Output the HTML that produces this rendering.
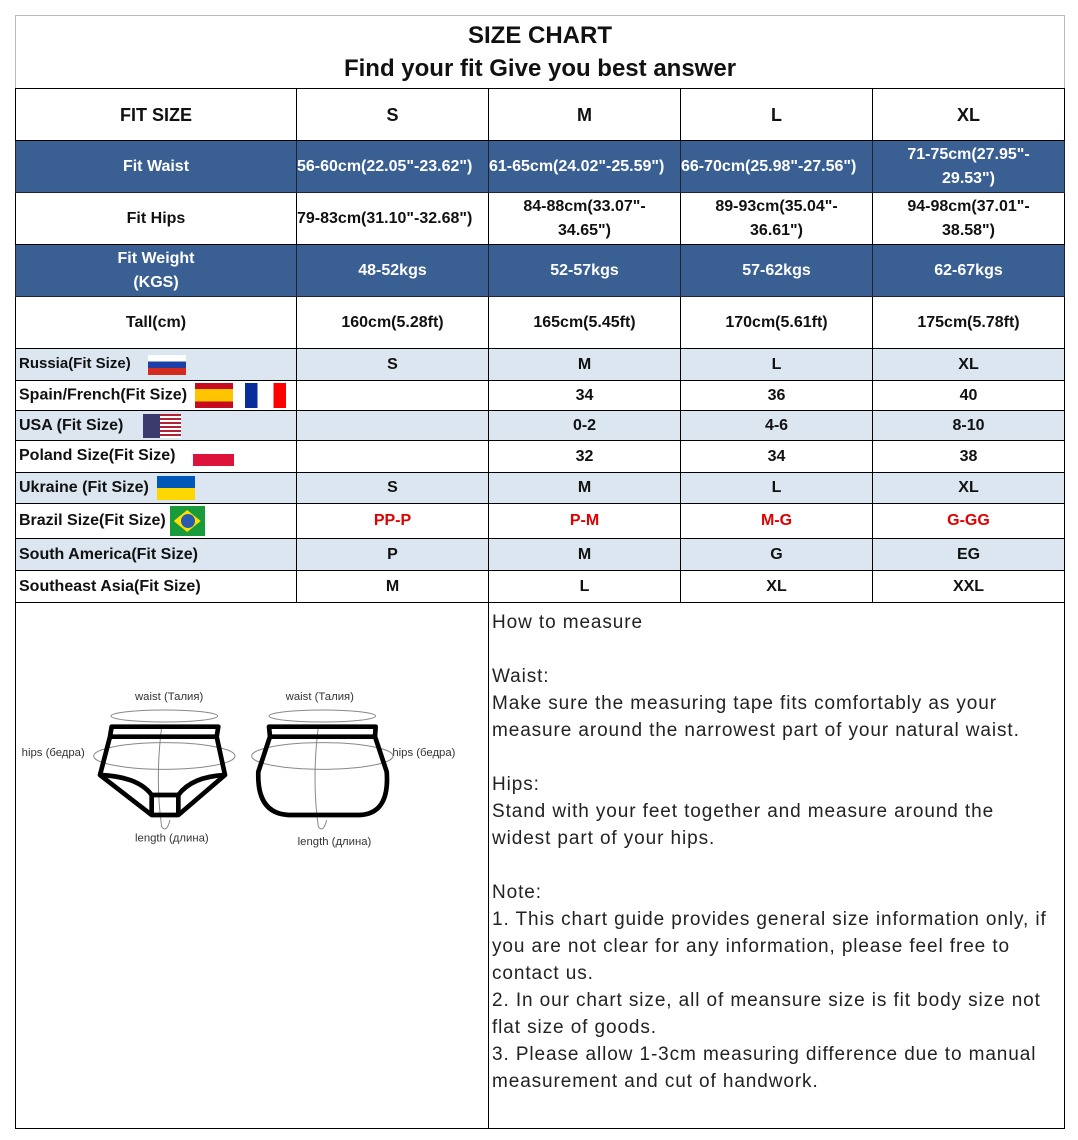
<!DOCTYPE html>
<html><head><meta charset="utf-8"><style>
body{margin:0;width:1078px;height:1140px;background:#fff;position:relative;font-family:"Liberation Sans",Arial,sans-serif;overflow:hidden}
table{position:absolute;left:15px;top:15px;border-collapse:collapse;table-layout:fixed}
td{border:1px solid #000;padding:0;text-align:center;font-weight:bold;font-size:16px;color:#111;white-space:nowrap;overflow:visible;line-height:20px}
.b td{background:#3a6093;color:#fff;border-color:#223}
.l td{background:#dce6f1}
td.lf{text-align:left;padding-left:3px}
.r{color:#e00000}
.fl{display:inline-block;vertical-align:middle;margin-left:8px}
.txt{position:absolute;left:492px;top:609px;font-size:19px;line-height:27px;color:#222;font-weight:normal;letter-spacing:0.9px;white-space:nowrap}
</style></head><body>
<table>
<colgroup><col style="width:281px"><col style="width:192px"><col style="width:192px"><col style="width:192px"><col style="width:192px"></colgroup>
<tr style="height:73px"><td colspan="5" style="font-size:24px;line-height:33px;border-left-color:#bbb;border-right-color:#bbb;border-top-color:#bbb">SIZE CHART<br>Find your fit Give you best answer</td></tr>
<tr style="height:52px"><td style="font-size:18px">FIT SIZE</td><td style="font-size:18px">S</td><td style="font-size:18px">M</td><td style="font-size:18px">L</td><td style="font-size:18px">XL</td></tr>
<tr class="b" style="height:52px"><td>Fit Waist</td><td style="text-align:left">56-60cm(22.05"-23.62")</td><td style="text-align:left">61-65cm(24.02"-25.59")</td><td style="text-align:left">66-70cm(25.98"-27.56")</td><td style="line-height:24px">71-75cm(27.95"-<br>29.53")</td></tr>
<tr style="height:52px"><td>Fit Hips</td><td style="text-align:left">79-83cm(31.10"-32.68")</td><td style="line-height:24px">84-88cm(33.07"-<br>34.65")</td><td style="line-height:24px">89-93cm(35.04"-<br>36.61")</td><td style="line-height:24px">94-98cm(37.01"-<br>38.58")</td></tr>
<tr class="b" style="height:52px"><td style="line-height:24px">Fit Weight<br>(KGS)</td><td>48-52kgs</td><td>52-57kgs</td><td>57-62kgs</td><td>62-67kgs</td></tr>
<tr style="height:52px"><td>Tall(cm)</td><td>160cm(5.28ft)</td><td>165cm(5.45ft)</td><td>170cm(5.61ft)</td><td>175cm(5.78ft)</td></tr>
<tr class="l" style="height:32px"><td class="lf" style="font-size:15px">Russia(Fit Size)<span class="fl" style="margin-left:17px;width:38px;height:20px;background:linear-gradient(#fff 0 33%,#1c3fa8 33% 66%,#d52b1e 66%)"></span></td><td>S</td><td>M</td><td>L</td><td>XL</td></tr>
<tr style="height:30px"><td class="lf">Spain/French(Fit Size)<span class="fl" style="margin-left:8px;width:38px;height:25px;background:linear-gradient(#c60b1e 0 25%,#ffc400 25% 75%,#c60b1e 75%)"></span><span class="fl" style="margin-left:12px;width:41px;height:25px;background:linear-gradient(90deg,#0a2d9c 0 30%,#fff 30% 70%,#f00 70%)"></span></td><td></td><td>34</td><td>36</td><td>40</td></tr>
<tr class="l" style="height:30px"><td class="lf">USA (Fit Size)<span class="fl" style="margin-left:20px;width:38px;height:24px;background:linear-gradient(90deg,#3c3b6e 0 45%,transparent 45%),repeating-linear-gradient(#b22234 0 2px,#fff 2px 4px)"></span></td><td></td><td>0-2</td><td>4-6</td><td>8-10</td></tr>
<tr style="height:32px"><td class="lf">Poland Size(Fit Size)<span class="fl" style="margin-left:18px;margin-top:8px;width:41px;height:12px;background:#dc143c"></span></td><td></td><td>32</td><td>34</td><td>38</td></tr>
<tr class="l" style="height:31px"><td class="lf">Ukraine (Fit Size)<span class="fl" style="width:38px;height:24px;background:linear-gradient(#0057b7 0 50%,#ffd700 50%)"></span></td><td>S</td><td>M</td><td>L</td><td>XL</td></tr>
<tr style="height:35px"><td class="lf">Brazil Size(Fit Size)<span class="fl" style="margin-left:4px;width:35px;height:30px;background:#1a9b3b;position:relative"><span style="position:absolute;left:4px;top:4px;width:27px;height:22px;background:#fedf00;clip-path:polygon(50% 0,100% 50%,50% 100%,0 50%)"></span><span style="position:absolute;left:11px;top:8px;width:14px;height:14px;border-radius:50%;background:#2a5bb0"></span></span></td><td class="r">PP-P</td><td class="r">P-M</td><td class="r">M-G</td><td class="r">G-GG</td></tr>
<tr class="l" style="height:32px"><td class="lf">South America(Fit Size)</td><td>P</td><td>M</td><td>G</td><td>EG</td></tr>
<tr style="height:32px"><td class="lf">Southeast Asia(Fit Size)</td><td>M</td><td>L</td><td>XL</td><td>XXL</td></tr>
<tr style="height:526px"><td colspan="2"></td><td colspan="3"></td></tr>
</table>
<svg style="position:absolute;left:15px;top:680px" width="460" height="180" viewBox="0 0 1380 540" font-family="Liberation Sans,Arial,sans-serif" font-size="34" fill="#333">
<text x="360" y="60">waist (Талия)</text><text x="812" y="60">waist (Талия)</text>
<text x="20" y="228">hips (бедра)</text><text x="1132" y="228">hips (бедра)</text>
<text x="360" y="485">length (длина)</text><text x="848" y="495">length (длина)</text>
<g fill="none" stroke="#888" stroke-width="3">
<ellipse cx="448" cy="108" rx="160" ry="18"/><ellipse cx="922" cy="108" rx="160" ry="18"/>
<ellipse cx="448" cy="228" rx="212" ry="40"/><ellipse cx="922" cy="228" rx="212" ry="40"/>
<path d="M440 140 Q420 300 440 440 Q455 460 465 420"/><path d="M910 140 Q890 300 910 440 Q925 460 935 420"/></g>
<g fill="none" stroke="#000" stroke-width="14" stroke-linejoin="round">
<path d="M290 140 H610 L605 170 L630 285 L490 405 H410 L255 285 L285 170 Z"/><path d="M285 170 H605"/>
<path d="M255 285 Q370 290 410 345 H490 Q530 290 630 285"/><path d="M410 345 L410 400 M490 345 L490 400"/>
<path d="M762 140 H1082 L1080 170 L1115 275 Q1125 400 1035 405 H820 Q725 400 730 275 L765 170 Z"/><path d="M765 170 H1080"/></g>
</svg>
<div class="txt">How to measure<br><br>Waist:<br>Make sure the measuring tape fits comfortably as your<br>measure around the narrowest part of your natural waist.<br><br>Hips:<br>Stand with your feet together and measure around the<br>widest part of your hips.<br><br>Note:<br>1. This chart guide provides general size information only, if<br>you are not clear for any information, please feel free to<br>contact us.<br>2. In our chart size, all of meansure size is fit body size not<br>flat size of goods.<br>3. Please allow 1-3cm measuring difference due to manual<br>measurement and cut of handwork.</div>
</body></html>
